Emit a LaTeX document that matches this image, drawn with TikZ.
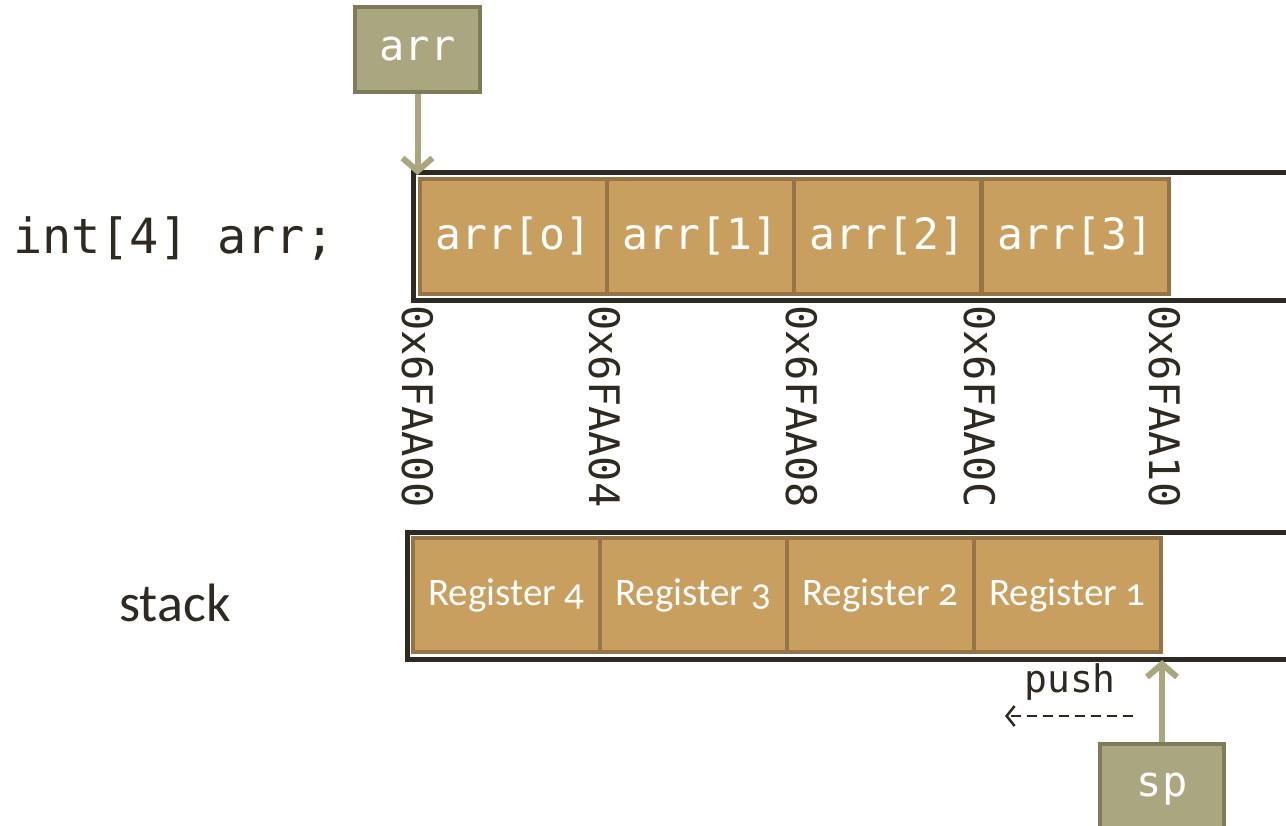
\documentclass[tikz,border=0pt]{standalone}
\usepackage{fontspec}
\setmonofont{DejaVu Sans Mono}
\newfontfamily\calfont[Numbers=OldStyle]{Carlito}
\usetikzlibrary{arrows.meta}
\definecolor{cellfill}{HTML}{C89F5E}
\definecolor{celldraw}{HTML}{957547}
\definecolor{olive}{HTML}{AAA67F}
\definecolor{olivedark}{HTML}{7E7A5A}
\definecolor{ink}{HTML}{2E2A22}
\tikzset{
  frame/.style={draw=ink, line width=5pt, rectangle, inner sep=0pt, anchor=north west},
  cell/.style={draw=celldraw, fill=cellfill, line width=4pt, rectangle, inner sep=0pt,
     minimum width=187pt, anchor=north west, text=white},
  memcell/.style={cell, minimum height=115pt, font=\ttfamily\fontsize{43}{43}\selectfont},
  regcell/.style={cell, minimum height=114pt, font=\calfont\fontsize{39}{39}\selectfont},
  ptrbox/.style={draw=olivedark, fill=olive, line width=4pt, rectangle, inner sep=0pt,
     text=white, font=\ttfamily\fontsize{42}{42}\selectfont},
  ptrarrow/.style={draw=olive, line width=6pt, -{Straight Barb[length=13pt,width=30pt,line width=6pt]}},
  addr/.style={rotate=-90, text=ink, font=\ttfamily\fontsize{42}{42}\selectfont, anchor=west, inner sep=0pt},
  lbl/.style={text=ink, inner sep=0pt}
}
\begin{document}
\begin{tikzpicture}[x=1pt,y=-1pt]
\useasboundingbox[fill=white] (0,0) rectangle (1286,826);
% top memory frame
\node[frame, minimum width=900pt, minimum height=128pt] (mem) at (411,170) {};
\node[memcell] (c0) at (418,177) {arr[o]};
\node[memcell] (c1) at (605,177) {arr[1]};
\node[memcell] (c2) at (792,177) {arr[2]};
\node[memcell] (c3) at (980,177) {arr[3]};
% addresses
\node[addr] (a0) at (418,305) {0x6FAA00};
\node[addr] (a1) at (605,305) {0x6FAA04};
\node[addr] (a2) at (802,305) {0x6FAA08};
\node[addr] (a3) at (980,305) {0x6FAA0C};
\node[addr] (a4) at (1165,305) {0x6FAA10};
% stack frame
\node[frame, minimum width=900pt, minimum height=127pt] (stk) at (405,530) {};
\node[regcell] (r4) at (411,536) {Register 4};
\node[regcell] (r3) at (598,536) {Register 3};
\node[regcell] (r2) at (785,536) {Register 2};
\node[regcell] (r1) at (972,536) {Register 1};
% labels
\node[lbl, anchor=west, font=\ttfamily\fontsize{48.5}{48.5}\selectfont] (decl) at (13,238) {int[4] arr;};
\node[lbl, font=\calfont\fontsize{54}{54}\selectfont] (stacklbl) at (175,603) {stack};
\node[lbl, font=\ttfamily\fontsize{38}{38}\selectfont] (push) at (1070,682) {push};
% pointers
\node[ptrbox, minimum width=125pt, minimum height=85pt] (arrbox) at (417.5,49.5) {arr};
\node[ptrbox, minimum width=124pt, minimum height=90pt, anchor=north] (sp) at (1162,742) {\raisebox{-16pt}{sp}};
\draw[ptrarrow] (arrbox.south) -- ([yshift=-5pt]arrbox.south |- mem.north);
\draw[ptrarrow] (sp.north) -- ([yshift=2pt]sp.north |- stk.south);
% push arrow
\coordinate (pushR) at (1133,716);
\coordinate (pushL) at (1005,716);
\draw[ink, line width=2.5pt, dash pattern=on 10pt off 6pt, -{Straight Barb[length=8pt,width=20pt,line width=2.5pt]}] (pushR) -- (pushL);
\end{tikzpicture}
\end{document}
